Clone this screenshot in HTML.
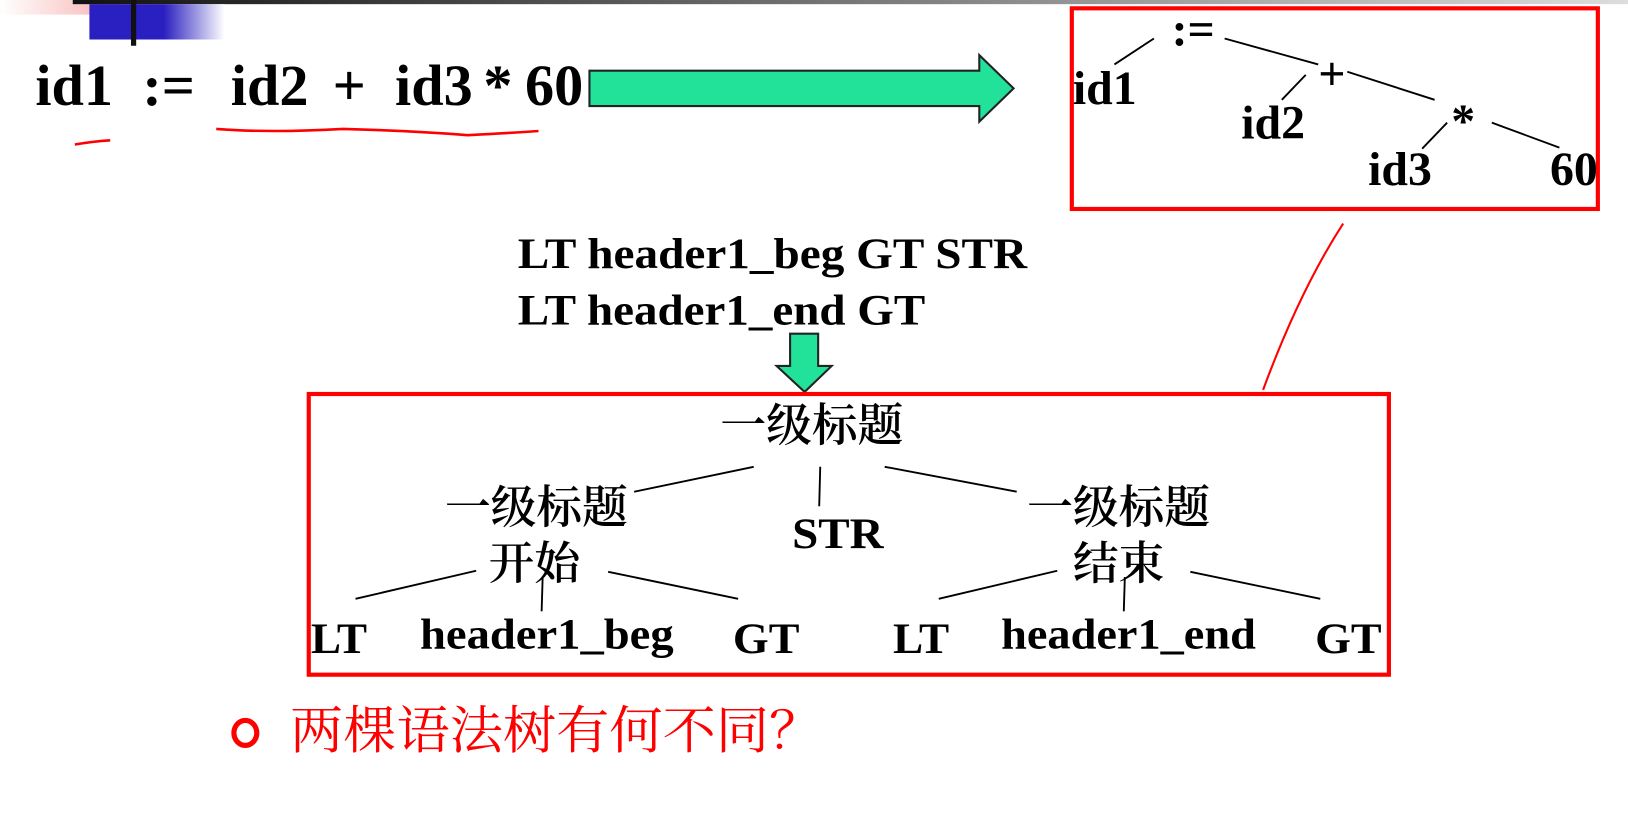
<!DOCTYPE html>
<html><head><meta charset="utf-8"><style>
html,body{margin:0;padding:0;background:#fff;width:1628px;height:840px;overflow:hidden}
svg{display:block}
.b{font-family:"Liberation Serif",serif;font-weight:bold;fill:#000}
.c{font-family:"Liberation Serif","Noto Serif CJK SC",serif;font-weight:600;fill:#000}
</style></head><body>
<svg width="1628" height="840" viewBox="0 0 1566 808" xmlns="http://www.w3.org/2000/svg">
<defs>
<linearGradient id="tg" x1="0" x2="1"><stop offset="0" stop-color="#111"/><stop offset="1" stop-color="#ddd"/></linearGradient>
<linearGradient id="bg" x1="0" x2="1"><stop offset="0" stop-color="#2a1fc0"/><stop offset="0.55" stop-color="#2a1fc0"/><stop offset="1" stop-color="#fff"/></linearGradient>
<linearGradient id="pg" x1="0" x2="1"><stop offset="0" stop-color="#fff"/><stop offset="1" stop-color="#f7b0b0"/></linearGradient>
</defs>
<rect x="0" y="0" width="115" height="14" fill="url(#pg)"/>
<rect x="70" y="0" width="1496" height="4" fill="url(#tg)"/>
<rect x="86" y="4" width="130" height="34" fill="url(#bg)"/>
<rect x="126" y="0" width="5" height="44" fill="#111"/>

<text class="b" x="34" y="101" font-size="56">id1</text>
<text class="b" x="137" y="101" font-size="56">:=</text>
<text class="b" x="222" y="101" font-size="56">id2</text>
<text class="b" x="320" y="101" font-size="56">+</text>
<text class="b" x="380" y="101" font-size="56">id3</text>
<text class="b" x="465" y="101" font-size="56">*</text>
<text class="b" x="505" y="101" font-size="56">60</text>
<path d="M72 139 Q90 136 106 135" stroke="#f00" stroke-width="2.5" fill="none"/>
<path d="M208 124 Q260 128 330 124 Q400 126 450 130 Q490 128 518 126" stroke="#f00" stroke-width="2.5" fill="none"/>

<polygon points="567,68 942,68 942,53 975,85 942,117 942,102 567,102" fill="#22e29a" stroke="#222" stroke-width="2"/>

<rect x="1031" y="8" width="506" height="193" fill="none" stroke="#f00" stroke-width="4"/>
<g stroke="#000" stroke-width="1.8">
<line x1="1072" y1="62" x2="1110" y2="37"/><line x1="1178" y1="37" x2="1268" y2="62"/>
<line x1="1233" y1="96" x2="1256" y2="72"/><line x1="1296" y1="69" x2="1380" y2="96"/>
<line x1="1368" y1="143" x2="1392" y2="118"/><line x1="1435" y1="118" x2="1500" y2="142"/>
</g>
<text class="b" x="1127" y="44" font-size="46">:=</text>
<text class="b" x="1032" y="100" font-size="46">id1</text>
<text class="b" x="1268" y="86" font-size="46">+</text>
<text class="b" x="1194" y="133" font-size="46">id2</text>
<text class="b" x="1396" y="132" font-size="46">*</text>
<text class="b" x="1316" y="178" font-size="46">id3</text>
<text class="b" x="1491" y="178" font-size="46">60</text>
<path d="M1292 215 Q1250 280 1215 375" stroke="#f00" stroke-width="2" fill="none"/>

<text class="b" x="498" y="258" font-size="42" textLength="490" lengthAdjust="spacingAndGlyphs">LT header1_beg GT STR</text>
<text class="b" x="498" y="312" font-size="42" textLength="392" lengthAdjust="spacingAndGlyphs">LT header1_end GT</text>
<polygon points="760,321 787,321 787,352 800,352 774,377 747,352 760,352" fill="#22e29a" stroke="#222" stroke-width="2"/>

<rect x="297" y="379" width="1039" height="270" fill="none" stroke="#f00" stroke-width="4"/>
<g stroke="#000" stroke-width="1.8">
<line x1="610" y1="473" x2="725" y2="449"/><line x1="789" y1="449" x2="788" y2="487"/><line x1="851" y1="449" x2="978" y2="473"/>
<line x1="342" y1="576" x2="458" y2="549"/><line x1="522" y1="555" x2="521" y2="588"/><line x1="585" y1="550" x2="710" y2="576"/>
<line x1="903" y1="576" x2="1017" y2="549"/><line x1="1082" y1="555" x2="1081" y2="588"/><line x1="1145" y1="550" x2="1270" y2="576"/>
</g>
<text class="c" x="693" y="424" font-size="44">一级标题</text>
<text class="c" x="428" y="503" font-size="44">一级标题</text>
<text class="c" x="470" y="557" font-size="44">开始</text>
<text class="b" x="762" y="527" font-size="42" textLength="88" lengthAdjust="spacingAndGlyphs">STR</text>
<text class="c" x="988" y="503" font-size="44">一级标题</text>
<text class="c" x="1032" y="557" font-size="44">结束</text>
<text class="b" x="299" y="628" font-size="42" textLength="54" lengthAdjust="spacingAndGlyphs">LT</text>
<text class="b" x="404" y="624" font-size="42" textLength="244" lengthAdjust="spacingAndGlyphs">header1_beg</text>
<text class="b" x="705" y="628" font-size="42" textLength="64" lengthAdjust="spacingAndGlyphs">GT</text>
<text class="b" x="859" y="628" font-size="42" textLength="54" lengthAdjust="spacingAndGlyphs">LT</text>
<text class="b" x="963" y="624" font-size="42" textLength="245" lengthAdjust="spacingAndGlyphs">header1_end</text>
<text class="b" x="1265" y="628" font-size="42" textLength="64" lengthAdjust="spacingAndGlyphs">GT</text>

<ellipse cx="236" cy="705" rx="11" ry="12" fill="none" stroke="#f00" stroke-width="5"/>
<text x="279" y="720" font-size="50" fill="#f00" font-family="'Noto Serif CJK SC',serif" textLength="512" lengthAdjust="spacingAndGlyphs">两棵语法树有何不同？</text>
</svg>
</body></html>
